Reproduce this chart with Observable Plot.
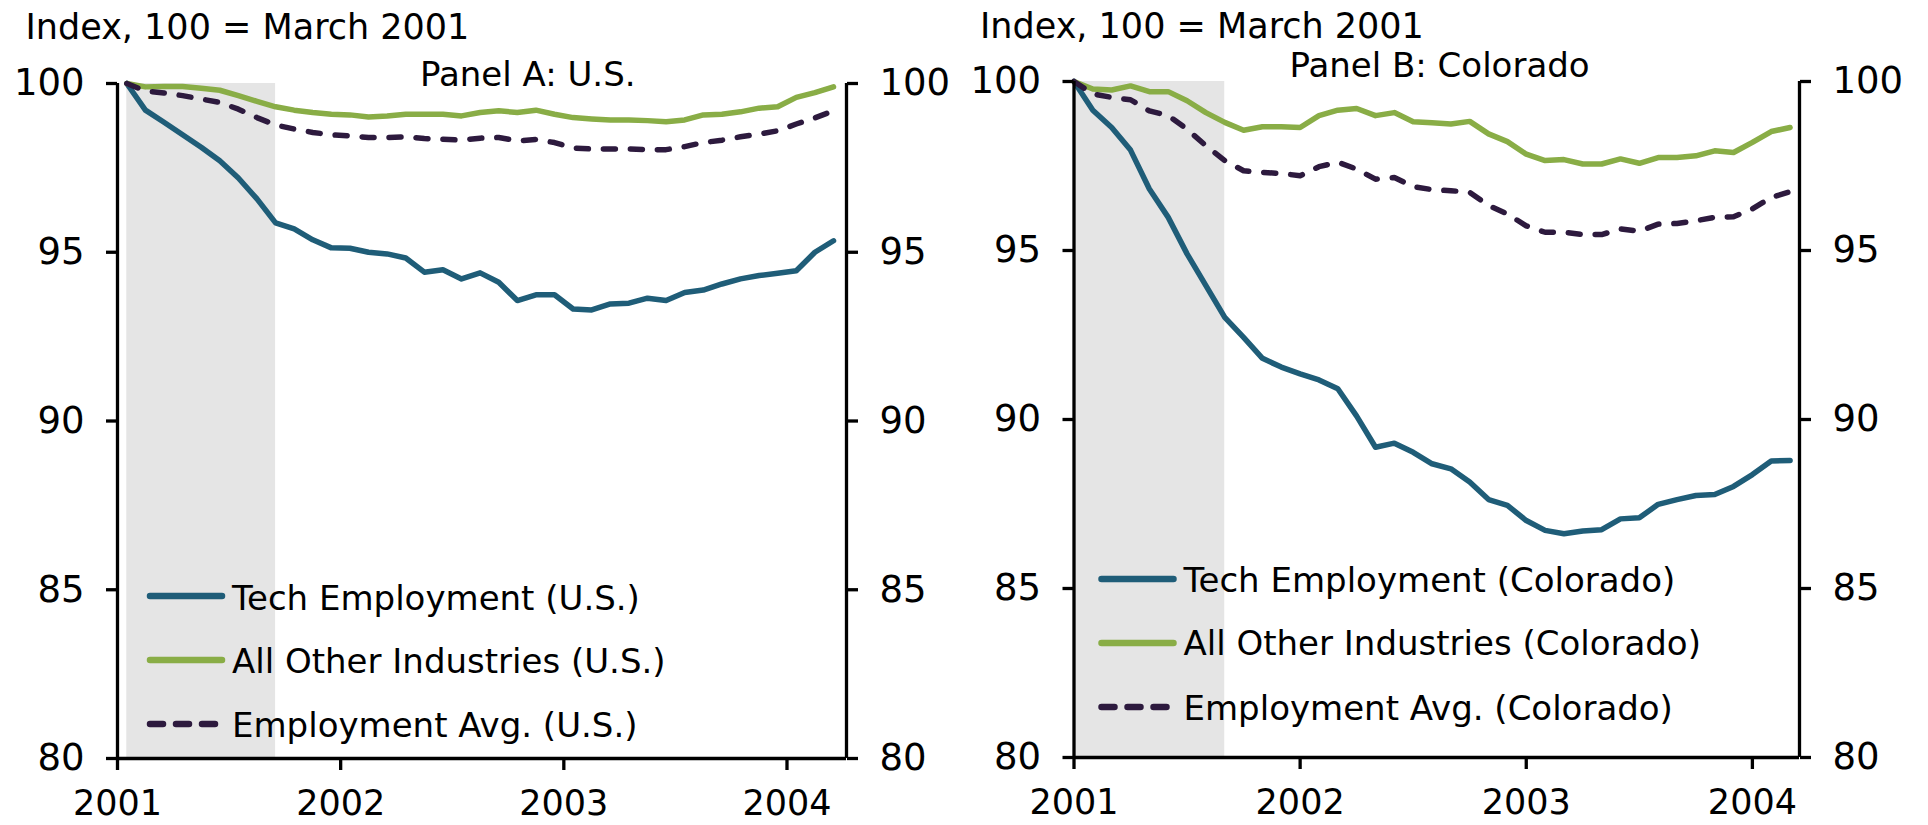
<!DOCTYPE html>
<html>
<head>
<meta charset="utf-8">
<script src="https://cdn.jsdelivr.net/npm/d3@7"></script>
<script src="https://cdn.jsdelivr.net/npm/@observablehq/plot@0.6"></script>
<style>
  html, body { margin: 0; padding: 0; background: #ffffff; }
  #wrap { position: relative; width: 1928px; height: 825px; overflow: hidden; font-family: "DejaVu Sans", sans-serif; }
  .panel { position: absolute; top: 0; }
  #overlay { position: absolute; left: 0; top: 0; pointer-events: none; }
</style>
</head>
<body>
<div id="wrap"></div>
<script>
// ---------------- DATA (monthly, index 0 = March 2001, 100 = March 2001) ----------------
const yearLabels = ["2001", "2002", "2003", "2004"];
const yTicks = [80, 85, 90, 95, 100];
const yDomain = [80, 100];
const axisTitle = "Index, 100 = March 2001";
const panelTitles = ["Panel A: U.S.", "Panel B: Colorado"];
const legendA = ["Tech Employment (U.S.)", "All Other Industries (U.S.)", "Employment Avg. (U.S.)"];
const legendB = ["Tech Employment (Colorado)", "All Other Industries (Colorado)", "Employment Avg. (Colorado)"];
// recession shading: March 2001 (index 0) to November 2001 (index 8)
const recession = [{start: 0, end: 8, lo: 80, hi: 100}];

const usTech = [100, 99.21, 98.85, 98.48, 98.11, 97.71, 97.20, 96.58, 95.87, 95.69, 95.37, 95.13, 95.12,
  95.00, 94.95, 94.83, 94.41, 94.48, 94.21, 94.39, 94.11, 93.57, 93.74, 93.74, 93.32, 93.29, 93.47,
  93.49, 93.64, 93.57, 93.81, 93.88, 94.06, 94.21, 94.31, 94.38, 94.45, 95.00, 95.34];
const usOther = [100, 99.90, 99.91, 99.91, 99.86, 99.80, 99.64, 99.47, 99.31, 99.21, 99.14, 99.09, 99.07,
  99.01, 99.04, 99.09, 99.09, 99.09, 99.04, 99.14, 99.19, 99.14, 99.21, 99.09, 98.99, 98.95, 98.92,
  98.92, 98.90, 98.87, 98.92, 99.07, 99.09, 99.16, 99.27, 99.31, 99.59, 99.73, 99.90];
const usAvg = [100, 99.78, 99.72, 99.64, 99.54, 99.44, 99.24, 98.99, 98.77, 98.65, 98.55, 98.48, 98.45,
  98.40, 98.40, 98.42, 98.37, 98.35, 98.32, 98.38, 98.40, 98.30, 98.34, 98.25, 98.09, 98.06, 98.06,
  98.06, 98.04, 98.04, 98.13, 98.25, 98.32, 98.42, 98.50, 98.60, 98.80, 98.98, 99.19];

const coTech = [100, 99.15, 98.64, 97.97, 96.82, 95.98, 94.90, 93.96, 93.02, 92.43, 91.81, 91.55, 91.35,
  91.17, 90.91, 90.10, 89.18, 89.30, 89.03, 88.69, 88.54, 88.15, 87.63, 87.46, 87.01, 86.72, 86.62,
  86.70, 86.74, 87.06, 87.09, 87.49, 87.63, 87.75, 87.78, 88.02, 88.37, 88.77, 88.79];
const coOther = [100, 99.78, 99.75, 99.87, 99.70, 99.70, 99.43, 99.08, 98.79, 98.56, 98.66, 98.66, 98.64,
  98.99, 99.15, 99.20, 98.99, 99.08, 98.81, 98.78, 98.74, 98.82, 98.45, 98.22, 97.85, 97.66, 97.69,
  97.56, 97.56, 97.71, 97.58, 97.75, 97.75, 97.80, 97.95, 97.90, 98.20, 98.52, 98.64];
const coAvg = [100, 99.63, 99.53, 99.46, 99.13, 98.99, 98.59, 98.10, 97.66, 97.36, 97.31, 97.28, 97.21,
  97.48, 97.61, 97.41, 97.11, 97.16, 96.89, 96.80, 96.77, 96.72, 96.33, 96.08, 95.73, 95.54, 95.54,
  95.47, 95.47, 95.64, 95.57, 95.78, 95.80, 95.88, 95.98, 96.00, 96.23, 96.57, 96.74];

// ---------------- STYLE ----------------
const colTech = "#1f5d78", colOther = "#89ad46", colAvg = "#2d1a3e", colShade = "#e5e5e5";
const FONT = "DejaVu Sans";

function series(arr) { return arr.map((v, i) => ({i, v})); }

function makePanel(cfg) {
  const tickLabel = new Map(cfg.xTicks.map((t, k) => [t, yearLabels[k]]));
  const axisCommon = {tickSize: 11, tickPadding: 22, strokeWidth: 3.3, stroke: "#000", fontSize: 37, label: null, ticks: yTicks};
  return Plot.plot({
    width: 964, height: 825,
    marginLeft: cfg.ml, marginRight: cfg.mr, marginTop: cfg.mt, marginBottom: cfg.mb,
    style: {fontFamily: FONT, fontSize: "37px", color: "#000", background: "transparent", overflow: "visible"},
    x: {domain: cfg.xDomain},
    y: {domain: yDomain},
    marks: [
      Plot.rect(recession, {x1: "start", x2: "end", y1: "lo", y2: "hi", fill: colShade}),
      Plot.line(series(cfg.tech), {x: "i", y: "v", stroke: colTech, strokeWidth: 5.5, strokeLinejoin: "round", strokeLinecap: "round"}),
      Plot.line(series(cfg.other), {x: "i", y: "v", stroke: colOther, strokeWidth: 5.5, strokeLinejoin: "round", strokeLinecap: "round"}),
      Plot.line(series(cfg.avg), {x: "i", y: "v", stroke: colAvg, strokeWidth: 5.5, strokeDasharray: "12,15", strokeLinejoin: "round", strokeLinecap: "round"}),
      Plot.ruleX([cfg.xDomain[0]], {stroke: "#000", strokeWidth: 3.3}),
      Plot.ruleX([cfg.xDomain[1]], {stroke: "#000", strokeWidth: 3.3}),
      Plot.ruleY([yDomain[0]], {stroke: "#000", strokeWidth: 3.3}),
      Plot.axisY({anchor: "left", ...axisCommon}),
      Plot.axisY({anchor: "right", ...axisCommon}),
      Plot.axisX({anchor: "bottom", ticks: cfg.xTicks, tickFormat: d => tickLabel.get(d),
        tickSize: 12, tickPadding: 20, strokeWidth: 3.3, stroke: "#000", fontSize: 35, label: null})
    ]
  });
}

const wrap = document.getElementById("wrap");

const pA = makePanel({tech: usTech, other: usOther, avg: usAvg,
  xDomain: [-0.5, 38.7], xTicks: [-0.5, 11.5, 23.5, 35.5],
  ml: 117, mr: 118, mt: 83, mb: 67});
pA.classList.add("panel"); pA.style.left = "0px";
wrap.appendChild(pA);

const pB = makePanel({tech: coTech, other: coOther, avg: coAvg,
  xDomain: [0, 38.5], xTicks: [0, 12, 24, 36],
  ml: 109.5, mr: 129, mt: 81, mb: 68});
pB.classList.add("panel"); pB.style.left = "964px";
wrap.appendChild(pB);

// ---------------- TITLES & LEGENDS (overlay) ----------------
const svg = d3.select(wrap).append("svg").attr("id", "overlay")
  .attr("width", 1928).attr("height", 825)
  .style("font-family", FONT);

function txt(x, y, s, size) {
  svg.append("text").attr("x", x).attr("y", y).attr("font-size", size).attr("fill", "#000").text(s);
}
txt(25.5, 39, axisTitle, 35);
txt(980, 38, axisTitle, 35);
txt(420, 86, panelTitles[0], 34);
txt(1289.5, 77, panelTitles[1], 34);

function legend(x0, lineYs, baseYs, labels) {
  const cols = [colTech, colOther, colAvg];
  labels.forEach((lab, k) => {
    const ln = svg.append("line").attr("x1", x0 + 3).attr("x2", x0 + (k === 2 ? 68 : 75))
      .attr("y1", lineYs[k]).attr("y2", lineYs[k])
      .attr("stroke", cols[k]).attr("stroke-width", 6.5).attr("stroke-linecap", "round");
    if (k === 2) ln.attr("stroke-dasharray", "13,13");
    txt(x0 + 85, baseYs[k], lab, 34);
  });
}
legend(147, [596, 660, 724], [610, 673, 737], legendA);
legend(1098.5, [579, 643, 707], [592, 655, 720], legendB);
</script>
</body>
</html>
